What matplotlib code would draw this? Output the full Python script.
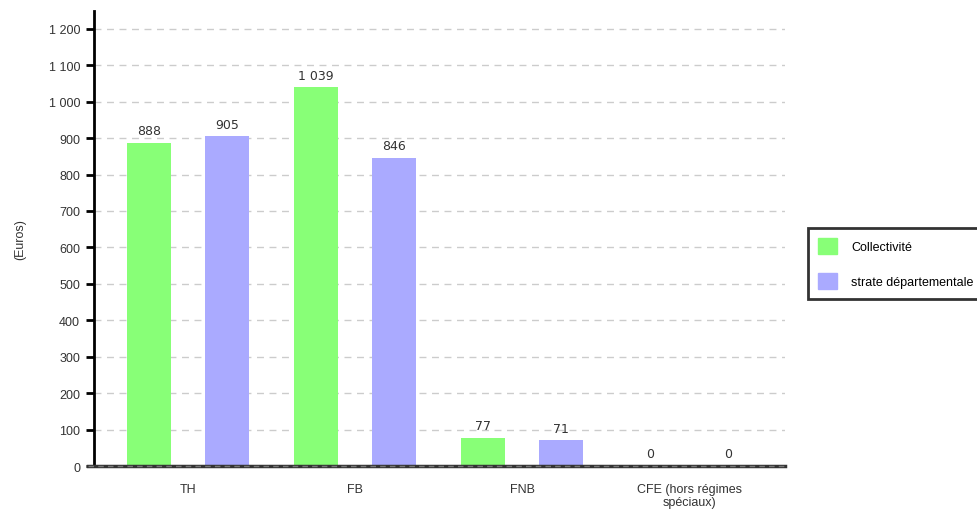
import matplotlib
matplotlib.use("Agg")
import numpy as np
from matplotlib import pyplot as plt
from matplotlib.patches import Patch

plt.rcParams["font.family"] = ["Liberation Sans", "DejaVu Sans"]

categories = ["TH", "FB", "FNB", "CFE (hors régimes\nspéciaux)"]
collectivite = [888, 1039, 77, 0]
strate = [905, 846, 71, 0]
series_names = ["Collectivité", "strate départementale"]
yticks = list(range(0, 1201, 100))

GREEN = "#88ff77"
BLUE = "#aaaaff"
TEXT = "#333333"


def fmt(v):
    # thousands separated by a space, French style
    return f"{v:,}".replace(",", " ")


fig = plt.figure(figsize=(9.78, 5.10), dpi=100)
ax = fig.add_axes([0.0961, 0.0843, 0.7066, 0.8922])

x = np.arange(len(categories))
w = 0.263
off = 0.233
b1 = ax.bar(x - off, collectivite, w, color=GREEN, zorder=3)
b2 = ax.bar(x + off, strate, w, color=BLUE, zorder=3)

for bars, vals in ((b1, collectivite), (b2, strate)):
    for rect, v in zip(bars, vals):
        ax.annotate(fmt(v), (rect.get_x() + rect.get_width() / 2, v),
                    xytext=(0, 4), textcoords="offset points",
                    ha="center", va="bottom", fontsize=9, color=TEXT,
                    family="DejaVu Sans")

ax.set_xlim(-0.563, 3.575)
ax.set_ylim(0, 1249)
ax.set_yticks(yticks)
ax.set_yticklabels([fmt(t) for t in yticks], fontsize=9, color=TEXT)
ax.set_xticks(x)
ax.set_xticklabels(categories, fontsize=9, color=TEXT, linespacing=1.1)
ax.tick_params(axis="x", length=0, pad=12)
ax.tick_params(axis="y", length=6, width=2, color="black", pad=4)

ax.grid(axis="y", linestyle=(0, (5, 4)), color="#cccccc", linewidth=1,
        zorder=0)

for s in ("top", "right", "bottom"):
    ax.spines[s].set_visible(False)
ax.spines["left"].set_linewidth(2)

# dark base line with dashes on top of it
ax.plot([-0.6, 3.575], [0, 0], color="#333333", linewidth=2.5,
        clip_on=False, zorder=4)
ax.plot([-0.6, 3.575], [0, 0], color="#777777", linewidth=1,
        linestyle=(0, (4, 3)), clip_on=False, zorder=5)

ax.set_ylabel("(Euros)", fontsize=9, color=TEXT, labelpad=16)

handles = [Patch(facecolor=GREEN, edgecolor=GREEN),
           Patch(facecolor=BLUE, edgecolor=BLUE)]
leg = fig.legend(handles, series_names, loc="upper left",
                 bbox_to_anchor=(0.826, 0.551), fontsize=9,
                 frameon=True, fancybox=False, handlelength=1.55,
                 handleheight=1.65, labelspacing=1.45, borderpad=0.8,
                 handletextpad=1.1, borderaxespad=0)
leg.get_frame().set_edgecolor("black")
leg.get_frame().set_linewidth(2)

fig.savefig("out.png", dpi=100)
